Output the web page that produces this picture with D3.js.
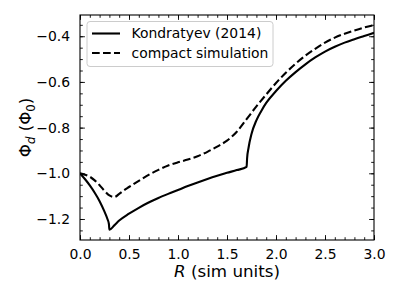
<!DOCTYPE html>
<html>
<head>
<meta charset="utf-8">
<script src="https://cdn.jsdelivr.net/npm/d3@7"></script>
<style>
body { margin: 0; background: #fff; }
text { font-family: "DejaVu Sans", sans-serif; fill: #000; }
</style>
</head>
<body>
<script>
// Kondratyev (2014) curve, R in sim units
var kondR = [0.00, 0.05, 0.10, 0.15, 0.20, 0.25, 0.28, 0.295, 0.30, 0.35, 0.40, 0.50, 0.60, 0.70, 0.80, 0.90, 1.00,
             1.10, 1.20, 1.30, 1.40, 1.50, 1.60, 1.70, 1.705, 1.72, 1.75, 1.80, 1.85, 1.90, 2.00, 2.10, 2.20,
             2.30, 2.40, 2.50, 2.60, 2.70, 2.80, 2.90, 3.00];
var kondPhi = [-1.000, -1.025, -1.053, -1.085, -1.122, -1.168, -1.200, -1.222, -1.247, -1.228, -1.207, -1.177, -1.151, -1.128, -1.108, -1.090, -1.073,
               -1.056, -1.040, -1.025, -1.011, -0.998, -0.986, -0.972, -0.935, -0.888, -0.828, -0.768, -0.727, -0.692, -0.640, -0.595, -0.557,
               -0.523, -0.493, -0.467, -0.446, -0.428, -0.413, -0.399, -0.385];

// compact simulation curve
var compR = [0.00, 0.05, 0.10, 0.15, 0.20, 0.25, 0.30, 0.35, 0.40, 0.45, 0.50, 0.60, 0.70, 0.80, 0.90, 1.00,
             1.10, 1.20, 1.30, 1.40, 1.50, 1.60, 1.70, 1.80, 1.90, 2.00, 2.10, 2.20, 2.30, 2.40, 2.50,
             2.60, 2.70, 2.80, 2.90, 3.00];
var compPhi = [-1.000, -1.006, -1.015, -1.031, -1.052, -1.077, -1.097, -1.104, -1.090, -1.074, -1.060, -1.033, -1.007, -0.985, -0.966, -0.952,
               -0.940, -0.925, -0.906, -0.883, -0.857, -0.818, -0.763, -0.707, -0.655, -0.605, -0.560, -0.520, -0.485, -0.455, -0.428,
               -0.406, -0.389, -0.375, -0.362, -0.351];

var xTicks = [0.0, 0.5, 1.0, 1.5, 2.0, 2.5, 3.0];
var yTicks = [-1.2, -1.0, -0.8, -0.6, -0.4];
var legendLabels = ["Kondratyev (2014)", "compact simulation"];

var w = 400, h = 300;
var pLeft = 80, pRight = 374, pTop = 15, pBottom = 240;

var x = d3.scaleLinear().domain([0, 3]).range([pLeft, pRight]);
var y = d3.scaleLinear().domain([-1.292, -0.307]).range([pBottom, pTop]);

var svg = d3.select("body").append("svg")
    .attr("width", w)
    .attr("height", h);

svg.append("defs").append("clipPath").attr("id", "clip")
    .append("rect")
    .attr("x", pLeft).attr("y", pTop)
    .attr("width", pRight - pLeft).attr("height", pBottom - pTop);

var minorX = d3.range(0, 31).map(function(i){ return i / 10; });
var minorY = d3.range(-25, -6).map(function(i){ return i / 20; });
var fmt = d3.format(".1f");

// ticks pointing inward on all four sides
var xAxis = svg.append("g").attr("transform", "translate(0," + pBottom + ")")
    .call(d3.axisBottom(x).tickValues(xTicks).tickFormat(fmt).tickSizeInner(-4.9).tickSizeOuter(0).tickPadding(9));
var xTop = svg.append("g").attr("transform", "translate(0," + pTop + ")")
    .call(d3.axisTop(x).tickValues(xTicks).tickFormat("").tickSizeInner(-4.9).tickSizeOuter(0));
var yAxis = svg.append("g").attr("transform", "translate(" + pLeft + ",0)")
    .call(d3.axisLeft(y).tickValues(yTicks).tickFormat(fmt).tickSizeInner(-4.9).tickSizeOuter(0).tickPadding(10));
var yRight = svg.append("g").attr("transform", "translate(" + pRight + ",0)")
    .call(d3.axisRight(y).tickValues(yTicks).tickFormat("").tickSizeInner(-4.9).tickSizeOuter(0));

var xMinor = [
    svg.append("g").attr("transform", "translate(0," + pBottom + ")")
        .call(d3.axisBottom(x).tickValues(minorX).tickFormat("").tickSizeInner(-2.8).tickSizeOuter(0)),
    svg.append("g").attr("transform", "translate(0," + pTop + ")")
        .call(d3.axisTop(x).tickValues(minorX).tickFormat("").tickSizeInner(-2.8).tickSizeOuter(0))
];
var yMinor = [
    svg.append("g").attr("transform", "translate(" + pLeft + ",0)")
        .call(d3.axisLeft(y).tickValues(minorY).tickFormat("").tickSizeInner(-2.8).tickSizeOuter(0)),
    svg.append("g").attr("transform", "translate(" + pRight + ",0)")
        .call(d3.axisRight(y).tickValues(minorY).tickFormat("").tickSizeInner(-2.8).tickSizeOuter(0))
];

[xAxis, xTop, yAxis, yRight].concat(xMinor, yMinor).forEach(function(g){
    g.select(".domain").remove();
    g.selectAll(".tick line").attr("stroke", "#000").attr("stroke-width", 0.9);
    g.selectAll(".tick text")
        .style("font-family", "DejaVu Sans, sans-serif")
        .style("font-size", "13.9px")
        .attr("fill", "#000");
});

// data lines
var line = d3.line()
    .x(function(d){ return x(d[0]); })
    .y(function(d){ return y(d[1]); })
    .curve(d3.curveMonotoneX);

var kond = kondR.map(function(r, i){ return [r, kondPhi[i]]; });
var comp = compR.map(function(r, i){ return [r, compPhi[i]]; });

var plot = svg.append("g").attr("clip-path", "url(#clip)");
plot.append("path")
    .attr("d", line(kond))
    .attr("fill", "none")
    .attr("stroke", "#000")
    .attr("stroke-width", 2.1);
plot.append("path")
    .attr("d", line(comp))
    .attr("fill", "none")
    .attr("stroke", "#000")
    .attr("stroke-width", 2.1)
    .attr("stroke-dasharray", "7.7,3.3");

// frame
svg.append("rect")
    .attr("x", pLeft).attr("y", pTop)
    .attr("width", pRight - pLeft).attr("height", pBottom - pTop)
    .attr("fill", "none")
    .attr("stroke", "#000")
    .attr("stroke-width", 1.1);

// legend
var legend = svg.append("g");
legend.append("rect")
    .attr("x", 87).attr("y", 21.5)
    .attr("width", 186).attr("height", 45)
    .attr("rx", 3)
    .attr("fill", "#fff")
    .attr("fill-opacity", 0.8)
    .attr("stroke", "#ccc")
    .attr("stroke-width", 1);

var rows = legend.selectAll(".row").data(legendLabels).enter().append("g")
    .attr("transform", function(d, i){ return "translate(0," + (33.5 + i * 19.5) + ")"; });
rows.append("line")
    .attr("x1", 92).attr("x2", 120)
    .attr("stroke", "#000")
    .attr("stroke-width", 2.1)
    .attr("stroke-dasharray", function(d, i){ return i == 1 ? "7.7,3.3" : null; });
rows.append("text")
    .attr("x", 131.5)
    .attr("dy", "0.35em")
    .style("font-size", "13.9px")
    .text(function(d){ return d; });

// axis labels
svg.append("text")
    .attr("x", (pLeft + pRight) / 2)
    .attr("y", 276.5)
    .attr("text-anchor", "middle")
    .style("font-size", "16.7px")
    .html('<tspan font-style="italic">R</tspan> (sim units)');

svg.append("text")
    .attr("transform", "translate(31," + (pTop + pBottom) / 2 + ") rotate(-90)")
    .attr("text-anchor", "middle")
    .style("font-size", "16.7px")
    .html('Φ<tspan font-style="italic" font-size="11.7px" dy="4">d</tspan><tspan dy="-4"> (Φ</tspan><tspan font-size="11.7px" dy="4">0</tspan><tspan dy="-4">)</tspan>');
</script>
</body>
</html>
